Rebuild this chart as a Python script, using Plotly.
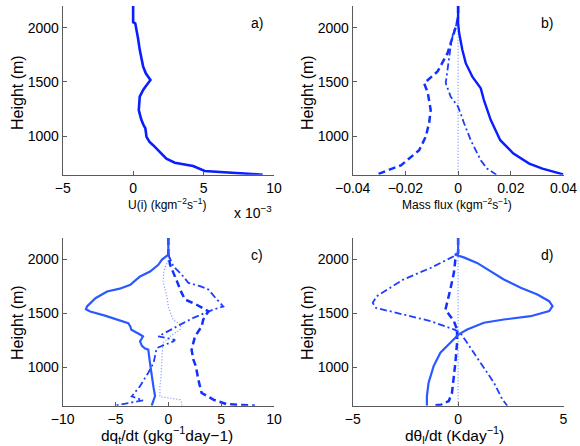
import plotly.graph_objects as go

W, H = 580, 446

# ---------------- data ----------------
# a) U(i)  (x 1e-3 kg m-2 s-1)
ua_h = [2200, 2050, 2040, 2012, 1900, 1796, 1700, 1642, 1580, 1518, 1470, 1426, 1364, 1300,
        1241, 1190, 1148, 1100, 1071, 994, 950, 917, 855, 793, 756, 725, 679, 645]
ua_x = [0, 0, 0.15, 0.2, 0.35, 0.47, 0.6, 0.71, 0.9, 1.23, 0.95, 0.71, 0.47, 0.42,
        0.40, 0.5, 0.59, 0.75, 0.87, 0.95, 1.15, 1.42, 1.89, 2.36, 2.96, 4.26, 5.08, 9.2]

# b) mass flux
mb_solid_h = [2200, 2043, 1951, 1796, 1673, 1549, 1441, 1333, 1148, 963, 840, 747, 701, 648]
mb_solid_x = [0, 0, 0.0004, 0.0016, 0.0029, 0.0054, 0.0086, 0.0098, 0.0124, 0.016, 0.021,
              0.027, 0.032, 0.0399]
mb_dash_h = [2200, 2100, 2028, 1935, 1858, 1765, 1596, 1488, 1400, 1241, 1120, 994, 870, 731, 685, 645]
mb_dash_x = [0, 0, -0.0006, -0.0018, -0.003, -0.004, -0.0078, -0.0129, -0.0115, -0.0104,
             -0.011, -0.0123, -0.0148, -0.0217, -0.0268, -0.031]
mb_dd_h = [2074, 1935, 1796, 1640, 1488, 1364, 1272, 1117, 963, 778, 701, 645]
mb_dd_x = [0, -0.002, -0.003, -0.0038, -0.0047, -0.0028, 0, 0.0023, 0.0048, 0.0086, 0.011, 0.0145]
mb_dot_h = [2000, 645]
mb_dot_x = [0, 0]

# c) dq_t/dt
qc_solid_h = [2200, 2046, 2000, 1951, 1889, 1843, 1800, 1766, 1730, 1704, 1642, 1590, 1565, 1540,
              1518, 1480, 1442, 1411, 1380, 1349, 1300, 1287, 1241, 1200, 1175, 1165, 1043, 920,
              812, 735, 645]
qc_solid_x = [0, 0, -0.6, -0.95, -1.73, -2.68, -3.2, -3.6, -4.6, -5.8, -6.9, -7.5, -7.7, -7.8,
              -7.4, -6.0, -4.7, -3.8, -3.6, -3.5, -2.6, -2.4, -2.68, -2.5, -2.2, -1.9, -1.74, -1.58,
              -1.4, -1.26, -1.58]
qc_dash_h = [2200, 2046, 1954, 1877, 1799, 1691, 1630, 1581, 1531, 1518, 1480, 1442, 1380, 1287,
             1164, 1071, 1012, 886, 763, 701, 660, 645]
qc_dash_x = [0, 0, 0.16, 0.47, 0.79, 1.26, 1.58, 2.68, 3.6, 3.8, 3.5, 3.3, 3.15, 2.52,
             2.2, 2.37, 2.6, 2.84, 3.15, 4.26, 5.5, 8.2]
qc_dd_h = [2046, 1938, 1861, 1784, 1753, 1722, 1640, 1599, 1565, 1537, 1460, 1411, 1365, 1287,
           1256, 1241, 1180, 1041, 951, 824, 731, 694, 645]
qc_dd_x = [0, 0.47, 1.26, 1.9, 3.0, 3.8, 4.5, 4.9, 5.2, 4.26, 2.37, 1.4, 0.47, -0.95,
           0.63, 0.47, -1.1, -1.4, -1.9, -2.7, -3.47, -2.4, -5.2]
qc_dot_h = [2046, 1997, 1904, 1800, 1719, 1640, 1561, 1500, 1441, 1395, 1349, 1290, 1229, 1100,
            1009, 900, 821, 729, 701, 673, 645]
qc_dot_x = [0, 0, -0.4, -0.5, -0.3, -0.1, 0, 0.2, 0.45, 1.2, 1.1, 0.2, -0.5, -0.6,
            -0.63, -0.7, -0.8, -0.8, 1.1, 1.26, 1.3]

# d) dtheta_l/dt
td_solid_h = [2200, 2062, 2045, 2020, 1969, 1892, 1815, 1738, 1676, 1614, 1568, 1522, 1475, 1444,
              1414, 1352, 1306, 1228, 1136, 1012, 858, 735, 645]
td_solid_x = [0, 0, -0.15, 0.27, 0.9, 1.54, 2.17, 2.97, 3.76, 4.32, 4.48, 4.32, 3.44, 2.17,
              1.22, 0.43, 0.03, -0.37, -0.84, -1.16, -1.4, -1.48, -1.48]
td_dash_h = [2200, 2062, 2000, 1877, 1722, 1599, 1537, 1475, 1429, 1352, 1228, 1043, 889, 765,
             688, 655, 645]
td_dash_x = [0, 0, -0.13, -0.2, -0.37, -0.52, -0.6, -0.37, -0.2, -0.05, -0.05, -0.13, -0.2, -0.29,
             -0.44, -0.8, -1.2]
td_dd_h = [2031, 1923, 1815, 1660, 1599, 1552, 1491, 1429, 1352, 1321, 1228, 1043, 858, 704, 645]
td_dd_x = [-0.2, -1.3, -2.6, -3.86, -4.05, -3.9, -2.6, -1.3, -0.2, 0.1, 0.43, 1.06, 1.7, 2.1, 2.33]
td_dot_h = [2050, 645]
td_dot_x = [0, 0]

height_ticks = [1000, 1500, 2000]
a_ticks = [-5, 0, 5, 10]
a_ticktext = ["\u22125", "0", "5", "10"]
b_ticks = [-0.04, -0.02, 0, 0.02, 0.04]
b_ticktext = ["\u22120.04", "\u22120.02", "0", "0.02", "0.04"]
c_ticks = [-10, -5, 0, 5, 10]
c_ticktext = ["\u221210", "\u22125", "0", "5", "10"]
d_ticks = [-5, 0, 5]
d_ticktext = ["\u22125", "0", "5"]

# ---------------- styles ----------------
C_A = "#0a1eff"
C_SOLID = "#2a5aff"
C_DASH = "#1230ff"
C_DD = "#1d3dff"
C_DOT = "#6f8fff"
FONT = "Liberation Sans, Arial, Helvetica, sans-serif"
AXC = "#5a5a5a"

fig = go.Figure()

def add(x, y, ax, color, width, dash="solid"):
    fig.add_trace(go.Scatter(x=x, y=y, mode="lines", xaxis="x" + ax, yaxis="y" + ax,
                             line=dict(color=color, width=width, dash=dash),
                             showlegend=False, hoverinfo="skip"))

DASH = "7px,4px"
DD = "7px,3px,2px,3px"
DOT = "1px,2px"

add(ua_x, ua_h, "", C_A, 2.6)
add(mb_dot_x, mb_dot_h, "2", C_DOT, 1.2, DOT)
add(mb_dd_x, mb_dd_h, "2", C_DD, 1.8, DD)
add(mb_dash_x, mb_dash_h, "2", C_DASH, 2.5, DASH)
add(mb_solid_x, mb_solid_h, "2", C_A, 2.4)
add(qc_dot_x, qc_dot_h, "3", C_DOT, 1.2, DOT)
add(qc_dd_x, qc_dd_h, "3", C_DD, 1.8, DD)
add(qc_dash_x, qc_dash_h, "3", C_DASH, 2.5, DASH)
add(qc_solid_x, qc_solid_h, "3", C_SOLID, 2.2)
add(td_dot_x, td_dot_h, "4", C_DOT, 1.2, DOT)
add(td_dd_x, td_dd_h, "4", C_DD, 1.8, DD)
add(td_dash_x, td_dash_h, "4", C_DASH, 2.5, DASH)
add(td_solid_x, td_solid_h, "4", C_SOLID, 2.2)

def px_x(p):
    return p / W

def px_y(p):
    return 1 - p / H

dom_x_left = [px_x(62.7), px_x(274)]
dom_x_right = [px_x(352.7), px_x(563.5)]
dom_y_top = [px_y(174.7), px_y(6)]
dom_y_bot = [px_y(405.7), px_y(238)]

base_axis = dict(showline=True, linecolor=AXC, linewidth=1.2, ticks="inside", ticklen=4,
                 tickcolor=AXC, showgrid=False, zeroline=False,
                 tickfont=dict(family=FONT, size=14, color="black"))

def xa(domain, anchor, rng, tv, tt):
    return dict(base_axis, domain=domain, anchor=anchor, range=rng, tickvals=tv, ticktext=tt)

def ya(domain, anchor, rng):
    return dict(base_axis, domain=domain, anchor=anchor, range=rng, tickvals=height_ticks)

YR = [645, 2200]
fig.update_layout(
    width=W, height=H, paper_bgcolor="white", plot_bgcolor="white",
    margin=dict(l=0, r=0, t=0, b=0, autoexpand=False),
    xaxis=xa(dom_x_left, "y", [-5, 10], a_ticks, a_ticktext),
    yaxis=ya(dom_y_top, "x", YR),
    xaxis2=xa(dom_x_right, "y2", [-0.04, 0.04], b_ticks, b_ticktext),
    yaxis2=ya(dom_y_top, "x2", YR),
    xaxis3=xa(dom_x_left, "y3", [-10, 10], c_ticks, c_ticktext),
    yaxis3=ya(dom_y_bot, "x3", YR),
    xaxis4=xa(dom_x_right, "y4", [-5, 5], d_ticks, d_ticktext),
    yaxis4=ya(dom_y_bot, "x4", YR),
)

def ann(text, x, y, size=13, angle=0):
    fig.add_annotation(text=text, x=px_x(x), y=px_y(y), xref="paper", yref="paper",
                       showarrow=False, textangle=angle, xanchor="center", yanchor="middle",
                       font=dict(family=FONT, size=size, color="black"))

# y titles
ann("Height (m)", 17, 93, 16, -90)
ann("Height (m)", 307, 93, 16, -90)
ann("Height (m)", 17, 323, 16, -90)
ann("Height (m)", 307, 323, 16, -90)
# x titles
ann("U(i) (kgm<sup>\u22122</sup>s<sup>\u22121</sup>)", 167, 204, 12)
ann("x 10<sup>\u22123</sup>", 253, 212, 14)
ann("Mass flux (kgm<sup>\u22122</sup>s<sup>\u22121</sup>)", 457, 204, 12)
ann("dq<sub>t</sub>/dt (gkg<sup>\u22121</sup>day\u22121)", 167, 435, 15.5)
ann("d\u03b8<sub>l</sub>/dt (Kday<sup>\u22121</sup>)", 454, 435, 15.5)
# panel labels
ann("a)", 257, 23, 14)
ann("b)", 547, 23, 14)
ann("c)", 257, 255, 14)
ann("d)", 547, 255, 14)

fig.write_html("out.html", config={"displayModeBar": False},
               post_script="document.body.style.margin='0px';document.body.style.overflow='hidden';")
